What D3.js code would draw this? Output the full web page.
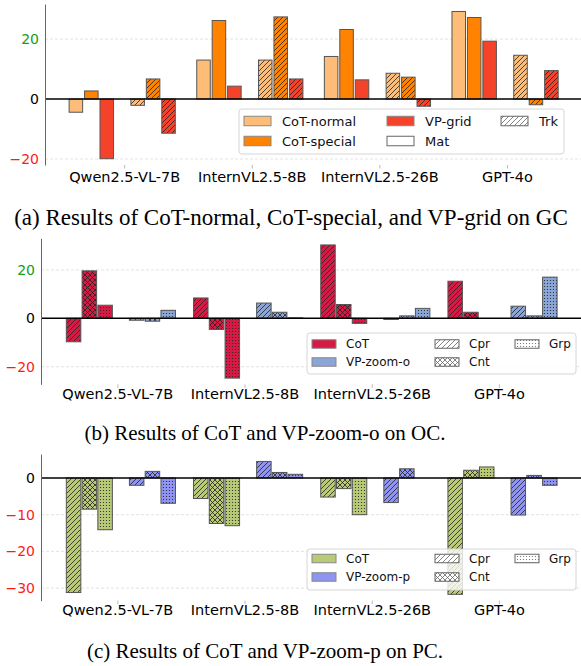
<!DOCTYPE html>
<html>
<head>
<meta charset="utf-8">
<script src="https://cdn.jsdelivr.net/npm/d3@7"></script>
<style>
  body { margin: 0; background: #fff; }
  svg { display: block; font-family: "DejaVu Sans", sans-serif; }
</style>
</head>
<body>
<div id="container"></div>
<script>
const models = ["Qwen2.5-VL-7B", "InternVL2.5-8B", "InternVL2.5-26B", "GPT-4o"];

// (a) GC: CoT-normal / CoT-special / VP-grid, on Mat and Trk
const gcCotNormalMat = [-4.4, 13.0, 14.2, 29.2];
const gcCotSpecialMat = [2.7, 26.2, 23.2, 27.2];
const gcVpGridMat = [-19.9, 4.3, 6.4, 19.3];
const gcCotNormalTrk = [-2.1, 13.0, 8.6, 14.6];
const gcCotSpecialTrk = [6.7, 27.4, 7.3, -1.9];
const gcVpGridTrk = [-11.4, 6.7, -2.4, 9.5];
const yTicksA = [-20, 0, 20];

// (b) OC: CoT / VP-zoom-o, on Cpr, Cnt, Grp
const ocCotCpr = [-9.7, 8.4, 30.3, 15.3];
const ocCotCnt = [19.6, -4.6, 5.7, 2.5];
const ocCotGrp = [5.4, -24.7, -2.1, 0];
const ocZoomCpr = [-0.8, 6.3, -0.5, 5.0];
const ocZoomCnt = [-1.2, 2.5, 1.0, 1.0];
const ocZoomGrp = [3.3, 0.2, 4.1, 17.0];
const yTicksB = [-20, 0, 20];

// (c) PC: CoT / VP-zoom-p, on Cpr, Cnt, Grp
const pcCotCpr = [-31.2, -5.6, -5.2, -31.7];
const pcCotCnt = [-8.5, -12.4, -2.9, 2.1];
const pcCotGrp = [-14.1, -13.0, -10.0, 3.0];
const pcZoomCpr = [-2.0, 4.5, -6.7, -10.1];
const pcZoomCnt = [1.8, 1.5, 2.5, 0.7];
const pcZoomGrp = [-6.9, 1.0, 0, -2.0];
const yTicksC = [-30, -20, -10, 0];

const captionA = "(a) Results of CoT-normal, CoT-special, and VP-grid on GC";
const captionB = "(b) Results of CoT and VP-zoom-o on OC.";
const captionC = "(c) Results of CoT and VP-zoom-p on PC.";

const colors = {
  cotNormal: "#fdbd78",
  cotSpecial: "#ff8200",
  vpGrid: "#f4432a",
  cotOC: "#d51b45",
  zoomO: "#8ba6d6",
  cotPC: "#b8c978",
  zoomP: "#8f94f2"
};

const svg = d3.select("#container")
  .append("svg")
  .attr("width", 581)
  .attr("height", 666);

const defs = svg.append("defs");
const made = {};

// hatch fills like matplotlib's "////", "xxx" and "...."
function fillFor(color, hatch, ink = "#222") {
  if (!hatch) return color;
  const id = `h-${hatch}-${color.replace("#", "")}-${ink.replace("#", "")}`;
  if (made[id]) return `url(#${id})`;
  made[id] = true;
  const s = hatch === "dots" ? 3 : 5;
  const p = defs.append("pattern")
    .attr("id", id)
    .attr("patternUnits", "userSpaceOnUse")
    .attr("width", s)
    .attr("height", s);
  p.append("rect").attr("width", s).attr("height", s).attr("fill", color);
  if (hatch === "dots") {
    p.append("circle").attr("cx", 1.5).attr("cy", 1.5).attr("r", 0.6).attr("fill", ink);
  } else {
    let d = `M0,${s}L${s},0M-1,1L1,-1M${s - 1},${s + 1}L${s + 1},${s - 1}`;
    if (hatch === "cross") d += `M0,0L${s},${s}M-1,${s - 1}L1,${s + 1}M${s - 1},-1L${s + 1},1`;
    p.append("path").attr("d", d).attr("stroke", ink).attr("stroke-width", 0.8);
  }
  return `url(#${id})`;
}

const fmt = d3.format("d");

function drawPanel(cfg) {
  const g = svg.append("g");

  const x = d3.scaleLinear().domain(cfg.xDomain).range([cfg.left, 581]);
  const y = d3.scaleLinear().domain(cfg.yDomain).range([cfg.bottom, cfg.top]);

  // grid
  g.append("g").selectAll("line")
    .data(cfg.yTicks.filter(t => t !== 0))
    .join("line")
    .attr("x1", cfg.left).attr("x2", 581)
    .attr("y1", d => y(d)).attr("y2", d => y(d))
    .attr("stroke", "#dcdcdc")
    .attr("stroke-width", 0.8)
    .attr("stroke-dasharray", "3,2");

  // bars
  cfg.series.forEach(s => {
    const cx = cfg.firstOffset + s.slot * cfg.stride;
    g.append("g").selectAll("rect")
      .data(s.values)
      .join("rect")
      .attr("x", (d, i) => x(i + cx - cfg.barWidth / 2))
      .attr("width", x(cfg.barWidth) - x(0))
      .attr("y", d => y(Math.max(0, d)))
      .attr("height", d => Math.abs(y(d) - y(0)))
      .attr("fill", fillFor(s.color, s.hatch))
      .attr("stroke", "#555")
      .attr("stroke-width", 1);
  });

  // zero line
  g.append("line")
    .attr("x1", cfg.left).attr("x2", 581)
    .attr("y1", y(0)).attr("y2", y(0))
    .attr("stroke", "#000")
    .attr("stroke-width", 1.5);

  // y axis
  const ya = g.append("g")
    .attr("transform", `translate(${cfg.left},0)`)
    .call(d3.axisLeft(y).tickValues(cfg.yTicks).tickFormat(fmt).tickSize(0).tickSizeOuter(0).tickPadding(6));
  ya.select(".domain").attr("stroke", "#666");
  ya.selectAll("text")
    .style("font-size", "14px")
    .style("font-family", "DejaVu Sans")
    .attr("fill", d => d > 0 ? "#14a014" : d < 0 ? "#ff1a1a" : "#000");

  // x axis
  const xa = g.append("g")
    .attr("transform", `translate(0,${cfg.bottom})`)
    .call(d3.axisBottom(x).tickValues([0, 1, 2, 3]).tickFormat(i => models[i]).tickSize(3.5).tickPadding(cfg.xPad));
  xa.select(".domain").remove();
  xa.selectAll(".tick line").attr("stroke", "#aaa").attr("stroke-width", 0.8);
  xa.selectAll("text")
    .style("font-size", "14.5px")
    .style("font-family", "DejaVu Sans")
    .attr("fill", "#000");

  // legend
  const L = cfg.legend;
  const lg = g.append("g");
  lg.append("rect")
    .attr("x", L.x).attr("y", L.y)
    .attr("width", L.w).attr("height", L.h)
    .attr("rx", 3)
    .attr("fill", "#fff")
    .attr("fill-opacity", 0.8)
    .attr("stroke", "#d6d6d6");
  L.items.forEach(it => {
    const px = L.cols[it.col], py = L.rows[it.row];
    lg.append("rect")
      .attr("x", px).attr("y", py - L.ph / 2)
      .attr("width", L.pw).attr("height", L.ph)
      .attr("fill", fillFor(it.color, it.hatch, "#666"))
      .attr("stroke", it.color === "#fff" ? "#666" : "#888")
      .attr("stroke-width", 1);
    lg.append("text")
      .attr("x", px + L.textGap)
      .attr("y", py)
      .attr("dy", "0.36em")
      .style("font-size", L.fontSize + "px")
      .attr("fill", "#111")
      .text(it.label);
  });

  // caption
  svg.append("text")
    .attr("x", cfg.caption.x)
    .attr("y", cfg.caption.y)
    .attr("text-anchor", "middle")
    .style("font-family", "Liberation Serif, Times New Roman, serif")
    .style("font-size", cfg.caption.size + "px")
    .attr("fill", "#000")
    .text(cfg.caption.text);
}

drawPanel({
  left: 45, top: 4, bottom: 165,
  xDomain: [-0.62, 3.58], yDomain: [-22, 31.7], yTicks: yTicksA,
  stride: 0.121, barWidth: 0.106, firstOffset: -0.378, xPad: 3.5,
  series: [
    {values: gcCotNormalMat, color: colors.cotNormal, hatch: null, slot: 0},
    {values: gcCotSpecialMat, color: colors.cotSpecial, hatch: null, slot: 1},
    {values: gcVpGridMat, color: colors.vpGrid, hatch: null, slot: 2},
    {values: gcCotNormalTrk, color: colors.cotNormal, hatch: "diag", slot: 4},
    {values: gcCotSpecialTrk, color: colors.cotSpecial, hatch: "diag", slot: 5},
    {values: gcVpGridTrk, color: colors.vpGrid, hatch: "diag", slot: 6}
  ],
  legend: {
    x: 239, y: 109, w: 325, h: 45,
    cols: [244, 387, 501], rows: [121, 141], pw: 27, ph: 9.5, textGap: 38, fontSize: 13,
    items: [
      {label: "CoT-normal", color: colors.cotNormal, col: 0, row: 0},
      {label: "CoT-special", color: colors.cotSpecial, col: 0, row: 1},
      {label: "VP-grid", color: colors.vpGrid, col: 1, row: 0},
      {label: "Mat", color: "#fff", col: 1, row: 1},
      {label: "Trk", color: "#fff", hatch: "diag", col: 2, row: 0}
    ]
  },
  caption: {text: captionA, x: 291, y: 225, size: 23}
});

drawPanel({
  left: 41, top: 238.4, bottom: 384.4,
  xDomain: [-0.6, 3.645], yDomain: [-27.3, 33], yTicks: yTicksB,
  stride: 0.124, barWidth: 0.114, firstOffset: -0.344, xPad: 1,
  series: [
    {values: ocCotCpr, color: colors.cotOC, hatch: "diag", slot: 0},
    {values: ocCotCnt, color: colors.cotOC, hatch: "cross", slot: 1},
    {values: ocCotGrp, color: colors.cotOC, hatch: "dots", slot: 2},
    {values: ocZoomCpr, color: colors.zoomO, hatch: "diag", slot: 4},
    {values: ocZoomCnt, color: colors.zoomO, hatch: "cross", slot: 5},
    {values: ocZoomGrp, color: colors.zoomO, hatch: "dots", slot: 6}
  ],
  legend: {
    x: 307, y: 333, w: 269, h: 41,
    cols: [312, 435, 515], rows: [344, 362], pw: 24, ph: 8.5, textGap: 34, fontSize: 12,
    items: [
      {label: "CoT", color: colors.cotOC, col: 0, row: 0},
      {label: "VP-zoom-o", color: colors.zoomO, col: 0, row: 1},
      {label: "Cpr", color: "#fff", hatch: "diag", col: 1, row: 0},
      {label: "Cnt", color: "#fff", hatch: "cross", col: 1, row: 1},
      {label: "Grp", color: "#fff", hatch: "dots", col: 2, row: 0}
    ]
  },
  caption: {text: captionB, x: 265, y: 440, size: 21}
});

drawPanel({
  left: 41, top: 454.1, bottom: 600.6,
  xDomain: [-0.6, 3.645], yDomain: [-33.4, 6.5], yTicks: yTicksC,
  stride: 0.124, barWidth: 0.114, firstOffset: -0.344, xPad: 1,
  series: [
    {values: pcCotCpr, color: colors.cotPC, hatch: "diag", slot: 0},
    {values: pcCotCnt, color: colors.cotPC, hatch: "cross", slot: 1},
    {values: pcCotGrp, color: colors.cotPC, hatch: "dots", slot: 2},
    {values: pcZoomCpr, color: colors.zoomP, hatch: "diag", slot: 4},
    {values: pcZoomCnt, color: colors.zoomP, hatch: "cross", slot: 5},
    {values: pcZoomGrp, color: colors.zoomP, hatch: "dots", slot: 6}
  ],
  legend: {
    x: 307, y: 549, w: 269, h: 41,
    cols: [312, 435, 515], rows: [558.5, 577], pw: 24, ph: 8.5, textGap: 34, fontSize: 12,
    items: [
      {label: "CoT", color: colors.cotPC, col: 0, row: 0},
      {label: "VP-zoom-p", color: colors.zoomP, col: 0, row: 1},
      {label: "Cpr", color: "#fff", hatch: "diag", col: 1, row: 0},
      {label: "Cnt", color: "#fff", hatch: "cross", col: 1, row: 1},
      {label: "Grp", color: "#fff", hatch: "dots", col: 2, row: 0}
    ]
  },
  caption: {text: captionC, x: 265, y: 658, size: 21}
});
</script>
</body>
</html>
